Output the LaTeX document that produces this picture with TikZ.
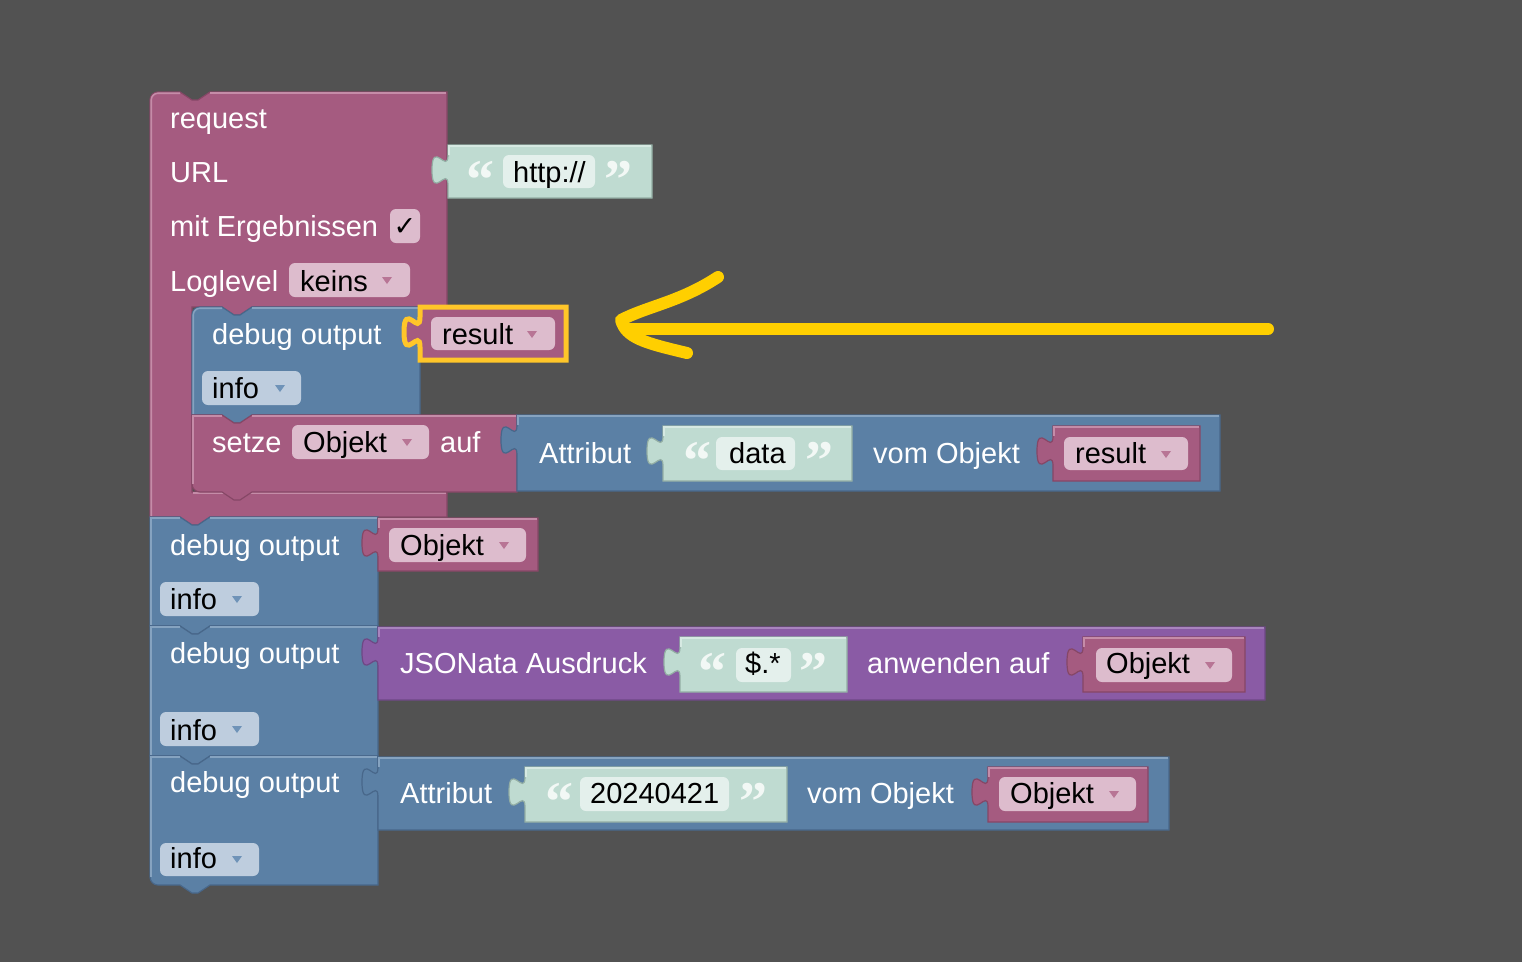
\documentclass[tikz,border=0pt]{standalone}
\usepackage{fontspec}
\setmainfont{Liberation Sans}
\newfontfamily\qfont{Liberation Serif}
\newfontfamily\symfnt{DejaVu Sans}
\definecolor{bg}{HTML}{525252}
\definecolor{pinkc}{HTML}{A55B80}
\definecolor{pinkd}{HTML}{864766}
\definecolor{pinkh}{HTML}{C58CA8}
\definecolor{pinkf}{HTML}{DDBCCD}
\definecolor{pinkt}{HTML}{B87595}
\definecolor{bluec}{HTML}{5B80A5}
\definecolor{blued}{HTML}{48678A}
\definecolor{blueh}{HTML}{86A3C0}
\definecolor{bluef}{HTML}{BECDDE}
\definecolor{bluet}{HTML}{6F93B8}
\definecolor{textc}{HTML}{BFDBD1}
\definecolor{textd}{HTML}{93AEA4}
\definecolor{texth}{HTML}{D6E9E2}
\definecolor{textf}{HTML}{E4F0EC}
\definecolor{purc}{HTML}{8A5BA5}
\definecolor{purd}{HTML}{6E4885}
\definecolor{purh}{HTML}{A884BE}
\definecolor{quote}{HTML}{F2F8F5}
\definecolor{hl}{HTML}{FFC629}
\definecolor{arr}{HTML}{FFCF00}
\tikzset{
  x=1pt, y=-1pt,
  lbl/.style={anchor=base west, inner sep=0, text=white, font=\fontsize{29}{34}\selectfont},
  fld/.style={anchor=base west, inner sep=0, text=black, font=\fontsize{29}{34}\selectfont},
  qt/.style={anchor=base west, inner sep=0, text=quote, font=\qfont\bfseries\fontsize{56}{60}\selectfont},
  pinkblk/.style={fill=pinkc, draw=pinkd, line width=1.2},
  blueblk/.style={fill=bluec, draw=blued, line width=1.2},
  textblk/.style={fill=textc, draw=textd, line width=1.2},
  purblk/.style={fill=purc, draw=purd, line width=1.2},
  hiline/.style={line width=1.6},
  pinkfld/.style={fill=pinkf},
  bluefld/.style={fill=bluef},
  textfld/.style={fill=textf},
}
% output block with puzzle tab on the left: x0 y0 x1 y1 style highlight-colour
\newcommand\outblk[6]{\filldraw[#5] ({#1},{#2}) -- ({#3},{#2}) -- ({#3},{#4}) -- ({#1},{#4}) -- ({#1},{#2+40})
  .. controls ({#1},{#2+20}) and ({#1-16},{#2+56}) .. ({#1-16},{#2+25})
  .. controls ({#1-16},{#2-6}) and ({#1},{#2+30}) .. ({#1},{#2+10}) -- cycle;
  \draw[hiline, #6] ({#1+1},{#2+10}) -- ({#1+1},{#2+1.2}) -- ({#3-1.5},{#2+1.2});}
\newcommand\fieldbox[5]{\fill[#5,rounded corners=6] ({#1},{#2}) rectangle ({#3},{#4});}
\newcommand\ddtri[3]{\fill[#3] ({#1-5},{#2-3}) -- ({#1+5},{#2-3}) -- ({#1},{#2+4}) -- cycle;}
\newcommand\quotes[4]{\node[qt] (#4l) at ({#1-1.8},{#3+53}) {“};\node[qt] (#4r) at ({#2-0.8},{#3+53}) {”};}
\begin{document}
\begin{tikzpicture}
\useasboundingbox (0,0) rectangle (1522,962);
\fill[bg] (0,0) rectangle (1522,962);

% ---------------- request block (C-shape)
\filldraw[pinkblk] (150,517) -- (150,100) .. controls (150,95.6) and (153.6,92) .. (158,92)
  -- (180,92) -- (192,100) -- (198,100) -- (210,92) -- (447,92) -- (447,307)
  -- (252,307) -- (240,315) -- (234,315) -- (222,307) -- (192,307) -- (192,492)
  -- (447,492) -- (447,517) -- (210,517) -- (198,525) -- (192,525) -- (180,517) -- cycle;
\draw[hiline, pinkh] (151.2,516) -- (151.2,100) .. controls (151.2,96.3) and (154.3,93.2) .. (158,93.2) -- (180,93.2);
\draw[hiline, pinkh] (210,93.2) -- (445.5,93.2);
\draw[hiline, pinkh] (193,493.2) -- (445.5,493.2);
\node[lbl] (req) at (170,128) {request};
\node[lbl] (url) at (170,182) {URL};
\node[lbl] (mit) at (170,236) {mit Ergebnissen};
\node[lbl] (log) at (170,291) {Loglevel};
\fieldbox{390}{209}{420}{243}{pinkfld}
\node[anchor=center, inner sep=0, text=black, font=\symfnt\fontsize{27}{30}\selectfont] (chk) at (405,227) {✓};
\fieldbox{289}{263}{410}{297}{pinkfld}
\node[fld] (keins) at (300,291) {keins};
\ddtri{387}{280}{pinkt}

% URL text block
\outblk{448}{145}{652}{198}{textblk}{texth}
\fieldbox{503}{155}{595}{188}{textfld}
\node[fld] (http) at (513,182) {http://};
\quotes{468}{605}{145}{qurl}

% ---------------- nested debug output
\filldraw[blueblk] (192,415) -- (192,315) .. controls (192,310.6) and (195.6,307) .. (200,307)
  -- (222,307) -- (234,315) -- (240,315) -- (252,307) -- (420,307) -- (420,415)
  -- (252,415) -- (240,423) -- (234,423) -- (222,415) -- cycle;
\draw[hiline, blueh] (193.2,414) -- (193.2,315) .. controls (193.2,311.3) and (196.3,308.2) .. (200,308.2) -- (222,308.2);
\draw[hiline, blueh] (252,308.2) -- (418.5,308.2);
\node[lbl] (dbg1) at (212,344) {debug output};
\fieldbox{202}{371}{301}{405}{bluefld}
\node[fld] (info1) at (212,398) {info};
\ddtri{280}{388}{bluet}
% highlighted result variable
\outblk{420}{307}{566}{360}{fill=pinkc, draw=hl, line width=5}{draw=none}
\fieldbox{431}{317}{555}{350}{pinkfld}
\node[fld] (res1) at (442,344) {result};
\ddtri{532}{334}{pinkt}

% ---------------- setze block
\filldraw[pinkblk] (192,415) -- (222,415) -- (234,423) -- (240,423) -- (252,415) -- (517,415)
  -- (517,492) -- (252,492) -- (240,500) -- (234,500) -- (222,492) -- (200,492)
  .. controls (195.6,492) and (192,488.4) .. (192,484) -- cycle;
\draw[hiline, pinkh] (193.2,484) -- (193.2,416.2) -- (222,416.2);
\draw[hiline, pinkh] (252,416.2) -- (515.5,416.2);
\node[lbl] (setze) at (212,452) {setze};
\fieldbox{292}{425}{429}{459}{pinkfld}
\node[fld] (obj0) at (303,452) {Objekt};
\ddtri{407}{442}{pinkt}
\node[lbl] (auf) at (440,452) {auf};
% Attribut block 1
\outblk{517}{415}{1220}{491}{blueblk}{blueh}
\node[lbl] (attr1) at (539,463) {Attribut};
\outblk{663}{426}{852}{481}{textblk}{texth}
\fieldbox{716}{437}{795}{470}{textfld}
\node[fld] (data) at (729,463) {data};
\quotes{685}{806}{426}{qdata}
\node[lbl] (vom1) at (873,463) {vom Objekt};
\outblk{1053}{426}{1200}{481}{pinkblk}{pinkh}
\fieldbox{1064}{437}{1188}{470}{pinkfld}
\node[fld] (res2) at (1075,463) {result};
\ddtri{1166}{454}{pinkt}

% ---------------- debug output 2
\filldraw[blueblk] (150,517) -- (180,517) -- (192,525) -- (198,525) -- (210,517) -- (378,517)
  -- (378,626) -- (210,626) -- (198,634) -- (192,634) -- (180,626) -- (150,626) -- cycle;
\draw[hiline, blueh] (151.2,625) -- (151.2,518.2) -- (180,518.2);
\draw[hiline, blueh] (210,518.2) -- (376.5,518.2);
\node[lbl] (dbg2) at (170,555) {debug output};
\fieldbox{160}{582}{259}{616}{bluefld}
\node[fld] (info2) at (170,609) {info};
\ddtri{237}{599}{bluet}
\outblk{378}{518}{538}{571}{pinkblk}{pinkh}
\fieldbox{389}{528}{526}{562}{pinkfld}
\node[fld] (obj2) at (400,555) {Objekt};
\ddtri{504}{545}{pinkt}

% ---------------- debug output 3
\filldraw[blueblk] (150,626) -- (180,626) -- (192,634) -- (198,634) -- (210,626) -- (378,626)
  -- (378,756) -- (210,756) -- (198,764) -- (192,764) -- (180,756) -- (150,756) -- cycle;
\draw[hiline, blueh] (151.2,755) -- (151.2,627.2) -- (180,627.2);
\draw[hiline, blueh] (210,627.2) -- (376.5,627.2);
\node[lbl] (dbg3) at (170,663) {debug output};
\fieldbox{160}{712}{259}{746}{bluefld}
\node[fld] (info3) at (170,740) {info};
\ddtri{237}{729}{bluet}
\outblk{378}{627}{1265}{700}{purblk}{purh}
\node[lbl] (json) at (400,673) {JSONata Ausdruck};
\outblk{680}{637}{847}{692}{textblk}{texth}
\fieldbox{736}{648}{791}{682}{textfld}
\node[fld] (dollar) at (745,673) {\$.*};
\quotes{700}{800}{637}{qjs}
\node[lbl] (anw) at (867,673) {anwenden auf};
\outblk{1083}{637}{1245}{692}{pinkblk}{pinkh}
\fieldbox{1096}{648}{1232}{682}{pinkfld}
\node[fld] (obj3) at (1106,673) {Objekt};
\ddtri{1210}{665}{pinkt}

% ---------------- debug output 4
\filldraw[blueblk] (150,756) -- (180,756) -- (192,764) -- (198,764) -- (210,756) -- (378,756)
  -- (378,885) -- (210,885) -- (198,893) -- (192,893) -- (180,885) -- (158,885)
  .. controls (153.6,885) and (150,881.4) .. (150,877) -- cycle;
\draw[hiline, blueh] (151.2,877) -- (151.2,757.2) -- (180,757.2);
\draw[hiline, blueh] (210,757.2) -- (376.5,757.2);
\node[lbl] (dbg4) at (170,792) {debug output};
\fieldbox{160}{843}{259}{876}{bluefld}
\node[fld] (info4) at (170,868) {info};
\ddtri{237}{859}{bluet}
\outblk{378}{757}{1169}{830}{blueblk}{blueh}
\node[lbl] (attr4) at (400,803) {Attribut};
\outblk{525}{767}{787}{822}{textblk}{texth}
\fieldbox{580}{777}{729}{811}{textfld}
\node[fld] (date) at (590,803) {20240421};
\quotes{547}{740}{767}{qdate}
\node[lbl] (vom4) at (807,803) {vom Objekt};
\outblk{988}{767}{1148}{822}{pinkblk}{pinkh}
\fieldbox{999}{777}{1136}{811}{pinkfld}
\node[fld] (obj4) at (1010,803) {Objekt};
\ddtri{1114}{794}{pinkt}

% ---------------- yellow arrow
\coordinate (arrtail) at (1268,329);
\coordinate (arrtip) at (628,329);
\coordinate (headtop) at (718,277);
\coordinate (headpt) at (621,320);
\coordinate (headbot) at (687,353);
\draw[arr, line width=12, line cap=round] (arrtail) -- (arrtip);
\draw[arr, line width=12, line cap=round, line join=round] (headtop) .. controls (680,302) and (648,306) .. (headpt)
  .. controls (626,338) and (645,343) .. (headbot);
\end{tikzpicture}
\end{document}
